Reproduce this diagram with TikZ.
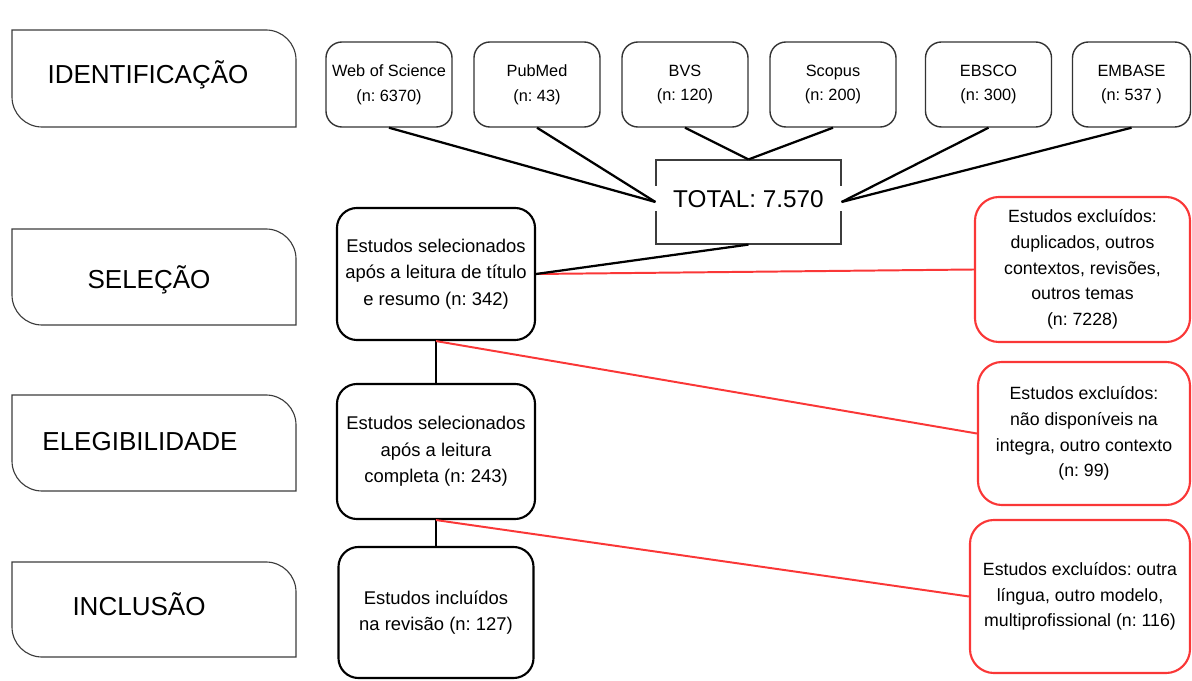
\documentclass[tikz,border=0pt]{standalone}
\usepackage{fontspec}
\setmainfont{Liberation Sans}
\usepackage{xcolor}
\definecolor{vermelho}{RGB}{250,55,55}
\definecolor{cinza}{RGB}{60,60,60}
\frenchspacing

\begin{document}
\begin{tikzpicture}[x=0.025cm, y=-0.025cm,
  etapa/.style={draw=cinza, line width=0.8pt},
  fonte/.style={rectangle, rounded corners=0.4cm, draw=black!80, line width=1pt, minimum width=3.15cm, minimum height=2.125cm, align=center, font=\fontsize{11.6}{17.5}\selectfont},
  estudo/.style={rectangle, rounded corners=0.5cm, draw, line width=1.5pt, minimum width=4.95cm, align=center, inner sep=2pt, font=\fontsize{13.1}{18.7}\selectfont},
  excluido/.style={estudo, draw=vermelho, rounded corners=0.6cm, font=\fontsize{12.6}{18.3}\selectfont},
  ligacao/.style={line width=1.6pt},
  corte/.style={vermelho, line width=1.4pt}]
\useasboundingbox (0,0) rectangle (1192,681);

\foreach \t/\b in {30/127, 229/325, 395/491, 562/657}
  \draw[etapa] (12,\t+40) -- (12,\t) [rounded corners=0.75cm] -- (296,\t) [sharp corners] -- (296,\b) [rounded corners=0.75cm] -- (12,\b) [sharp corners] -- (12,\t+40);

\node[font=\fontsize{18.5}{20}\selectfont] (identificacao) at (148,75) {IDENTIFICAÇÃO};
\node[font=\fontsize{18.5}{20}\selectfont] (selecaoetapa) at (149,280) {SELEÇÃO};
\node[font=\fontsize{18.5}{20}\selectfont] (elegibilidade) at (140,442) {ELEGIBILIDADE};
\node[font=\fontsize{18.5}{20}\selectfont] (inclusao) at (139,604) {INCLUSÃO};

\node[fonte] (wos) at (389,84.5) {Web of Science\\(n: 6370)};
\node[fonte] (pubmed) at (537,84.5) {PubMed\\(n: 43)};
\node[fonte] (bvs) at (685,84.5) {BVS\\(n: 120)};
\node[fonte] (scopus) at (833,84.5) {Scopus\\(n: 200)};
\node[fonte] (ebsco) at (988.5,84.5) {EBSCO\\(n: 300)};
\node[fonte, minimum width=2.95cm] (embase) at (1131.5,84.5) {EMBASE\\(n: 537 )};

\node[rectangle, draw=cinza, line width=0.8pt, minimum width=4.625cm, minimum height=2.1cm] (total) at (748.5,202) {};
\node[fill=white, minimum width=4.8cm, minimum height=0.625cm, inner sep=0pt, font=\fontsize{17.3}{20}\selectfont] (totaltxt) at (748.5,199) {TOTAL: 7.570};

\node[estudo, minimum height=3.3cm] (selecao) at (436,274) {Estudos selecionados\\após a leitura de título\\e resumo (n: 342)};
\node[estudo, minimum height=3.375cm] (elegiveis) at (436,451.5) {Estudos selecionados\\após a leitura\\completa (n: 243)};
\node[estudo, minimum width=4.875cm, minimum height=3.275cm] (incluidos) at (436,612.5) {Estudos incluídos\\na revisão (n: 127)};

\node[excluido, minimum width=5.375cm, minimum height=3.625cm] (exclusao1) at (1082.5,269.5) {Estudos excluídos:\\duplicados, outros\\contextos, revisões,\\outros temas\\(n: 7228)};
\node[excluido, minimum width=5.3cm, minimum height=3.575cm] (exclusao2) at (1084,433.5) {Estudos excluídos:\\não disponíveis na\\integra, outro contexto\\(n: 99)};
\node[excluido, minimum width=5.5cm, minimum height=3.825cm] (exclusao3) at (1080,596.5) {Estudos excluídos: outra\\língua, outro modelo,\\multiprofissional (n: 116)};

\draw[ligacao] (wos.south) -- (total.west);
\draw[ligacao] (pubmed.south) -- (total.west);
\draw[ligacao] (bvs.south) -- (total.north);
\draw[ligacao] (scopus.south) -- (total.north);
\draw[ligacao] (ebsco.south) -- (total.east);
\draw[ligacao] (embase.south) -- (total.east);

\draw[corte] (selecao.east) -- (exclusao1.west);
\draw[ligacao] (total.south) -- (selecao.east);
\draw[ligacao] (selecao.south) -- (elegiveis.north);
\draw[corte] (selecao.south) -- (exclusao2.west);
\draw[ligacao] (elegiveis.south) -- (incluidos.north);
\draw[corte] (elegiveis.south) -- (exclusao3.west);
\end{tikzpicture}
\end{document}
